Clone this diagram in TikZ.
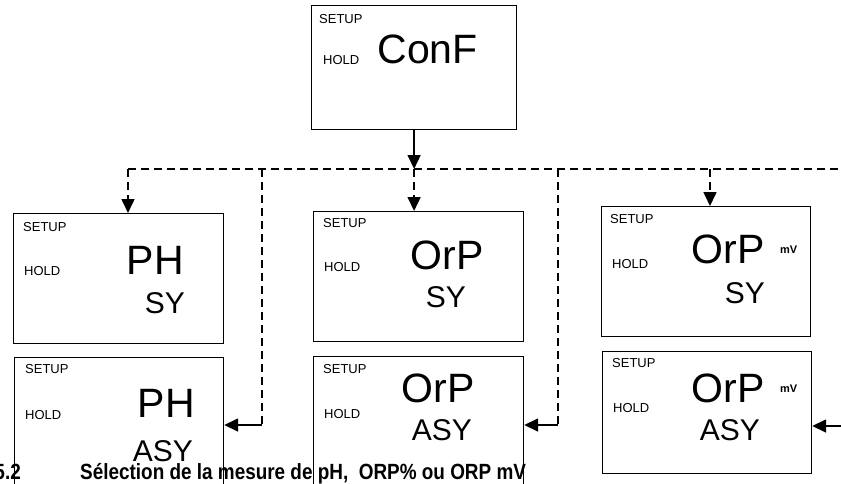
\documentclass[tikz,border=0pt]{standalone}
\usepackage{fontspec}
\setmainfont{Liberation Sans}
\usetikzlibrary{calc,arrows.meta}

\tikzset{
  screen/.style={draw,line width=1.2pt,anchor=north west,inner sep=0pt,minimum width=210pt,minimum height=130pt},
  tag/.style={anchor=base west,inner sep=0pt,font=\fontsize{13}{15}\selectfont},
  big/.style={anchor=base east,inner sep=0pt,font=\fontsize{41}{45}\selectfont},
  small/.style={anchor=base east,inner sep=0pt,font=\fontsize{30}{34}\selectfont},
  unit/.style={anchor=base west,inner sep=0pt,font=\bfseries\fontsize{11}{13}\selectfont},
  caption/.style={inner sep=0pt,font=\bfseries\fontsize{22}{24}\selectfont},
  wire/.style={line width=1.6pt,-{Triangle[length=14pt,width=13pt]}},
  bus/.style={line width=1.6pt,dash pattern=on 8pt off 5pt}
}

\begin{document}
\begin{tikzpicture}[x=1pt,y=-1pt]
  \useasboundingbox (0,0) rectangle (841,483);

  % the screens
  \node[screen,minimum width=205pt,minimum height=124pt] (conf) at (311,5) {};
  \node[screen] (phsy) at (13,213) {};
  \node[screen] (orpsy) at (313,211) {};
  \node[screen,minimum width=209pt] (mvsy) at (601,206) {};
  \node[screen,minimum width=209pt,minimum height=140pt] (phasy) at (14,357) {};
  \node[screen,minimum height=140pt] (orpasy) at (313,356) {};
  \node[screen,minimum width=209pt,minimum height=122pt] (mvasy) at (602,351) {};

  \foreach \n/\sx/\sy/\hx/\hy in {conf/8/18/12/59, phsy/10/18/11/62, orpsy/10/16/11/60,
      mvsy/9/17/11/62, phasy/11/16/11/62, orpasy/10/17/11/62, mvasy/10/16/11/61} {
    \node[tag] (\n-setup) at ($(\n.north west)+(\sx,\sy)$) {SETUP};
    \node[tag] (\n-hold) at ($(\n.north west)+(\hx,\hy)$) {HOLD};
  }

  \foreach \n/\t/\dx/\dy in {conf/ConF/167/58, phsy/PH/171/61, orpsy/OrP/171/58,
      mvsy/OrP/164/57, phasy/PH/181/60, orpasy/OrP/162/46, mvasy/OrP/163/51}
    \node[big] (\n-main) at ($(\n.north west)+(\dx,\dy)$) {\t};

  \foreach \n/\t/\dx/\dy in {phsy/SY/172/100, orpsy/SY/153/96, mvsy/SY/164/97,
      phasy/ASY/179/104, orpasy/ASY/159/84, mvasy/ASY/158/89}
    \node[small] (\n-mode) at ($(\n.north west)+(\dx,\dy)$) {\t};

  \node[unit] (mvsy-unit) at ($(mvsy.north west)+(179,47)$) {mV};
  \node[unit] (mvasy-unit) at ($(mvasy.north west)+(178,41)$) {mV};

  % connectors
  \coordinate (busL) at (128,169);
  \coordinate (busR) at (846,169);
  \coordinate (busM) at (710,169);
  \coordinate (retA) at (262,169);
  \coordinate (retB) at (558,169);
  \coordinate (inR) at (846,426);

  \draw[wire] (conf.south) -- (conf.south |- busL);
  \draw[bus] (busL) -- (busR);
  \draw[bus,wire] (busL) -- (busL |- phsy.north);
  \draw[bus,wire] (conf.south |- busL) -- (conf.south |- orpsy.north);
  \draw[bus,wire] (busM) -- (busM |- mvsy.north);

  \draw[bus] (retA) -- (262,425) coordinate (cornA);
  \draw[wire] (cornA) -- (cornA -| phasy.east);
  \draw[bus] (retB) -- (558,425) coordinate (cornB);
  \draw[wire] (cornB) -- (cornB -| orpasy.east);
  \draw[wire] (inR) -- (inR -| mvasy.east);

  % caption
  \node[caption,anchor=base east] (secnum) at (21,479) {\scalebox{0.86}[1]{5.2}};
  \node[caption,anchor=base west] (sectitle) at (80,479)
    {\scalebox{0.86}[1]{Sélection de la mesure de pH,\ \ ORP\% ou ORP mV}};
\end{tikzpicture}
\end{document}
